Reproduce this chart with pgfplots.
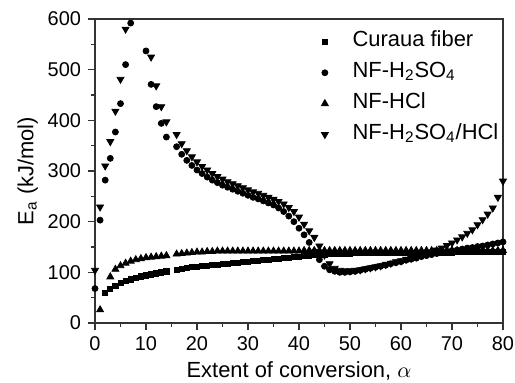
\documentclass[border=0pt]{standalone}
\usepackage{pgfplots}
\pgfplotsset{compat=1.18}
\usepackage{fontspec}
\setmainfont{Liberation Sans}
\begin{document}
\begin{tikzpicture}
\begin{axis}[
 at={(0,0)}, anchor=south west,
 scale only axis, width=204bp, height=152bp,
 xmin=0, xmax=80, ymin=0, ymax=600,
 xtick={0,10,...,80}, ytick={0,100,...,600},
 minor x tick num=1, minor y tick num=1,
 tick pos=left, tick align=outside,
 major tick length=3.5bp, minor tick length=2bp,
 axis line style={line width=0.6pt, black!80},
 every tick/.style={line width=0.6pt, black!80},
 ticklabel style={font=\fontsize{10}{12}\selectfont},
 /pgf/number format/assume math mode=true,
 xlabel={Extent of conversion, $\alpha$},
 ylabel={E\textsubscript{a} (kJ/mol)},
 label style={font=\fontsize{11}{13}\selectfont},
 xlabel style={at={(axis description cs:0.5,-0.158)}, anchor=center},
 ylabel style={at={(axis description cs:-0.165,0.5)}, anchor=center},
 legend cell align=left,
 legend style={draw=none, fill=none, font=\fontsize{11}{13}\selectfont,
   at={(axis description cs:0.52,0.99)}, anchor=north west,
   nodes={text height=8pt, text depth=3.5pt}},
 legend image code/.code={\path[draw=none,fill=none] (0cm,0cm) -- (0.62cm,0cm); \draw[mark repeat=1] plot coordinates {(0.2cm,0cm)};},
]
\addplot[only marks, mark=square*, mark size=1.3pt, black] table {
2 60
3 68
4 74
5 79
6 83
7 86
8 89
9 92
10 94
11 96
12 98
13 100
14 102
16 105
17 107
18 108
19 110
20 111
21 112
22 113
23 114
24 115
25 116
26 117
27 118
28 119
29 120
30 121
31 122
32 123
33 124
34 125
35 126
36 127
37 128
38 129
39 130
40 131
41 132
42 133
43 134
44 135
45 135
46 136
47 136
48 137
49 137
50 137
51 138
52 138
53 138
54 138
55 138
56 138
57 138
58 138
59 138
60 138
61 139
62 139
63 139
64 139
65 139
66 139
67 139
68 139
69 139
70 139
71 140
72 140
73 140
74 140
75 140
76 140
77 140
78 140
79 140
80 140
};
\addlegendentry{Curaua fiber}
\addplot[only marks, mark=*, mark size=1.5pt, black] table {
0 68
1 203
2 282
3 325
4 377
5 433
6 510
7 592
10 537
11 471
12 427
13 394
14 367
16 348
17 333
18 321
19 311
20 302
21 295
22 288
23 282
24 277
25 272
26 268
27 264
28 260
29 256
30 252
31 248
32 245
33 241
34 237
35 233
36 227
37 220
38 211
39 200
40 187
41 174
42 159
43 141
44 125
45 112
46 105
47 102
48 100
49 100
50 101
51 102
52 104
53 106
54 108
55 110
56 112
57 114
58 117
59 119
60 121
61 124
62 126
63 128
64 131
65 133
66 135
67 137
68 139
69 141
70 143
71 144
72 146
73 148
74 149
75 151
76 152
77 154
78 156
79 158
80 160
};
\addlegendentry{NF-H\textsubscript{2}SO\textsubscript{4}}
\addplot[only marks, mark=triangle*, mark size=2pt, black] table {
1 26
3 91
4 106
5 113
6 118
7 122
8 125
9 127
10 129
11 130
12 131
13 132
14 133
16 136
17 137
18 138
19 139
20 140
21 140
22 141
23 141
24 142
25 142
26 142
27 142
28 142
29 142
30 142
31 142
32 142
33 142
34 142
35 142
36 142
37 142
38 142
39 142
40 142
41 143
42 143
43 143
44 143
45 143
46 143
47 143
48 143
49 143
50 143
51 143
52 143
53 143
54 143
55 143
56 143
57 143
58 143
59 143
60 143
61 143
62 143
63 143
64 143
65 143
66 143
67 143
68 143
69 143
70 143
71 143
72 143
73 143
74 143
75 143
76 143
77 143
78 143
79 143
80 143
};
\addlegendentry{NF-HCl}
\addplot[only marks, mark=triangle*, mark size=2pt, mark options={rotate=180}, black] table {
0 104
1 229
2 310
3 358
4 418
5 481
6 580
11 525
12 468
13 427
14 397
16 372
17 354
18 340
19 328
20 318
21 309
22 302
23 295
24 289
25 284
26 279
27 275
28 271
29 267
30 263
31 259
32 256
33 252
34 248
35 244
36 240
37 235
38 228
39 220
40 209
41 195
42 182
43 169
44 152
45 134
46 117
47 108
48 104
49 103
50 103
51 104
52 105
53 107
54 109
55 111
56 113
57 116
58 118
59 121
60 123
61 126
62 128
63 131
64 134
65 137
66 140
67 144
68 148
69 153
70 158
71 164
72 170
73 177
74 184
75 194
76 204
77 215
78 227
79 248
80 280
};
\addlegendentry{NF-H\textsubscript{2}SO\textsubscript{4}/HCl}
\end{axis}
\pgfresetboundingbox
\useasboundingbox (-47.5bp,-30bp) rectangle (210bp,161.5bp);
\end{tikzpicture}
\end{document}
